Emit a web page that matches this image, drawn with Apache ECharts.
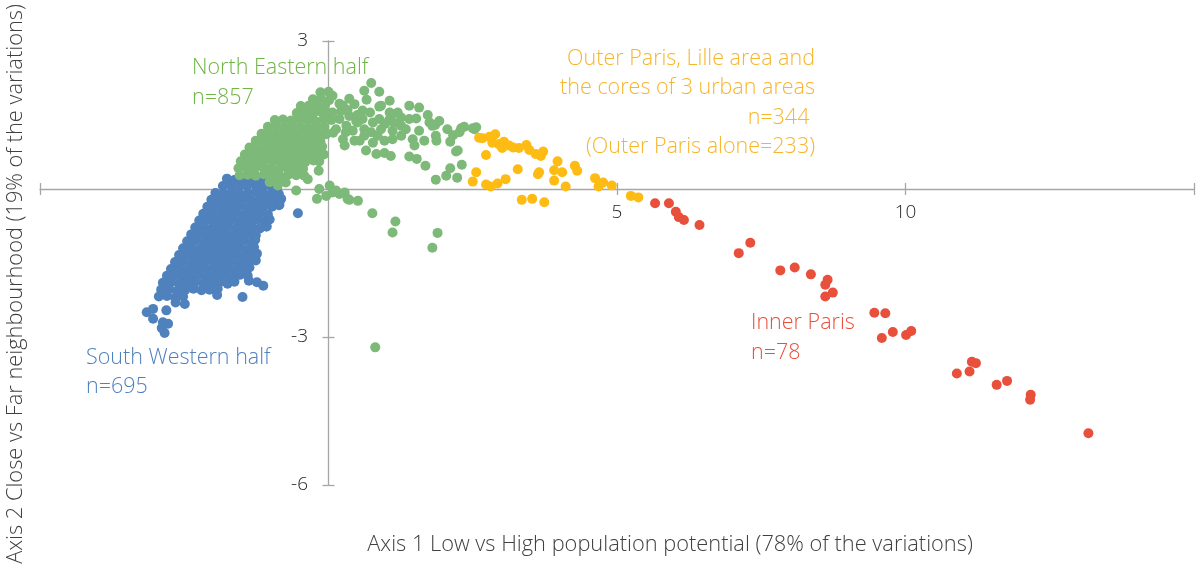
<!DOCTYPE html>
<html>
<head>
<meta charset="utf-8">
<script src="https://cdn.jsdelivr.net/npm/echarts@6/dist/echarts.min.js"></script>
<style>
html, body { margin: 0; padding: 0; background: #ffffff; }
#chart { width: 1197px; height: 565px; }
</style>
</head>
<body>
<div id="chart"></div>
<script>
// ===== data =====
var southWestern = [
	[-1.76, 0.21], [-1.62, 0.19], [-1.48, 0.20], [-1.34, 0.22], [-1.20, 0.18], [-1.10, 0.14],
	[-1.83, 0.06], [-1.69, 0.07], [-1.55, 0.05], [-1.41, 0.06], [-1.27, 0.08], [-1.13, 0.05], [-0.99, 0.06], [-0.89, 0.04],
	[-1.96, -0.08], [-1.82, -0.09], [-1.68, -0.07], [-1.54, -0.10], [-1.40, -0.08], [-1.26, -0.06], [-1.12, -0.09], [-0.98, -0.08], [-0.86, -0.10],
	[-2.03, -0.22], [-1.89, -0.21], [-1.75, -0.24], [-1.61, -0.22], [-1.47, -0.20], [-1.33, -0.23], [-1.19, -0.22], [-1.05, -0.21], [-0.91, -0.24], [-0.82, -0.20],
	[-2.10, -0.36], [-1.96, -0.35], [-1.82, -0.38], [-1.68, -0.36], [-1.54, -0.34], [-1.40, -0.37], [-1.26, -0.36], [-1.12, -0.35], [-0.98, -0.36], [-0.86, -0.33],
	[-2.17, -0.50], [-2.03, -0.49], [-1.89, -0.52], [-1.75, -0.50], [-1.61, -0.48], [-1.47, -0.51], [-1.33, -0.50], [-1.19, -0.49], [-1.05, -0.52],
	[-2.24, -0.64], [-2.10, -0.63], [-1.96, -0.66], [-1.82, -0.64], [-1.68, -0.62], [-1.54, -0.65], [-1.40, -0.64], [-1.26, -0.63], [-1.12, -0.66], [-1.02, -0.62],
	[-2.31, -0.78], [-2.17, -0.77], [-2.03, -0.80], [-1.89, -0.78], [-1.75, -0.76], [-1.61, -0.79], [-1.47, -0.78], [-1.33, -0.77], [-1.19, -0.80], [-1.07, -0.76],
	[-2.38, -0.92], [-2.24, -0.91], [-2.10, -0.94], [-1.96, -0.92], [-1.82, -0.90], [-1.68, -0.93], [-1.54, -0.92], [-1.40, -0.91], [-1.26, -0.94],
	[-2.45, -1.06], [-2.31, -1.05], [-2.17, -1.08], [-2.03, -1.06], [-1.89, -1.04], [-1.75, -1.07], [-1.61, -1.06], [-1.47, -1.05], [-1.33, -1.08], [-1.27, -1.03],
	[-2.52, -1.20], [-2.38, -1.19], [-2.24, -1.22], [-2.10, -1.20], [-1.96, -1.18], [-1.82, -1.21], [-1.68, -1.20], [-1.54, -1.19], [-1.40, -1.22], [-1.29, -1.18],
	[-2.59, -1.34], [-2.45, -1.33], [-2.31, -1.36], [-2.17, -1.34], [-2.03, -1.32], [-1.89, -1.35], [-1.75, -1.34], [-1.61, -1.33], [-1.47, -1.36], [-1.33, -1.34], [-1.24, -1.31],
	[-2.66, -1.48], [-2.52, -1.47], [-2.38, -1.50], [-2.24, -1.48], [-2.10, -1.46], [-1.96, -1.49], [-1.82, -1.48], [-1.68, -1.47], [-1.54, -1.50], [-1.40, -1.48], [-1.26, -1.45],
	[-2.73, -1.62], [-2.59, -1.61], [-2.45, -1.64], [-2.31, -1.62], [-2.17, -1.60], [-2.03, -1.63], [-1.89, -1.62], [-1.75, -1.61], [-1.61, -1.64], [-1.47, -1.62], [-1.37, -1.59],
	[-2.80, -1.76], [-2.66, -1.75], [-2.52, -1.78], [-2.38, -1.76], [-2.24, -1.74], [-2.10, -1.77], [-1.96, -1.76], [-1.82, -1.75], [-1.68, -1.78], [-1.54, -1.74], [-1.40, -1.76],
	[-2.87, -1.90], [-2.73, -1.89], [-2.59, -1.92], [-2.45, -1.90], [-2.31, -1.88], [-2.17, -1.91], [-2.03, -1.90], [-1.89, -1.89], [-1.75, -1.92], [-1.63, -1.88],
	[-1.38, -1.86], [-1.24, -1.89], [-1.13, -1.96],
	[-2.90, -2.04], [-2.76, -2.03], [-2.62, -2.06], [-2.48, -2.04], [-2.34, -2.02], [-2.20, -2.05], [-2.06, -2.04], [-1.92, -2.02],
	[-2.94, -2.18], [-2.80, -2.17], [-2.66, -2.20], [-2.52, -2.18], [-1.93, -2.15], [-1.49, -2.19],
	[-2.65, -2.30], [-2.49, -2.33], [-2.81, -2.46], [-3.15, -2.50], [-3.04, -2.43], [-3.04, -2.63],
	[-2.87, -2.70], [-2.78, -2.73], [-2.84, -2.92], [-2.89, -2.82],
	[-0.85, -0.32], [-0.99, -0.34], [-1.08, -0.76], [-1.31, -0.84], [-1.28, -1.38], [-0.53, -0.49]
];

var northEastern = [
	[-0.14, 1.96], [0.00, 1.97],
	[-0.27, 1.82], [-0.13, 1.83], [0.01, 1.80],
	[-0.48, 1.68], [-0.34, 1.69], [-0.20, 1.67], [-0.06, 1.70],
	[-0.55, 1.54], [-0.41, 1.55], [-0.27, 1.53], [-0.13, 1.56], [0.01, 1.54],
	[-0.93, 1.40], [-0.79, 1.41], [-0.65, 1.39], [-0.51, 1.42], [-0.37, 1.40], [-0.23, 1.38], [-0.09, 1.41], [0.05, 1.40],
	[-1.05, 1.26], [-0.91, 1.27], [-0.77, 1.25], [-0.63, 1.28], [-0.49, 1.26], [-0.35, 1.24], [-0.21, 1.27], [-0.07, 1.26],
	[-1.16, 1.12], [-1.02, 1.13], [-0.88, 1.11], [-0.74, 1.14], [-0.60, 1.12], [-0.46, 1.10], [-0.32, 1.13], [-0.18, 1.12], [-0.04, 1.11], [0.08, 1.14],
	[-1.26, 0.98], [-1.12, 0.99], [-0.98, 0.97], [-0.84, 1.00], [-0.70, 0.98], [-0.56, 0.96], [-0.42, 0.99], [-0.28, 0.98], [-0.14, 0.97],
	[-1.37, 0.84], [-1.23, 0.85], [-1.09, 0.83], [-0.95, 0.86], [-0.81, 0.84], [-0.67, 0.82], [-0.53, 0.85], [-0.39, 0.84], [-0.25, 0.83], [-0.11, 0.86],
	[-1.45, 0.70], [-1.31, 0.71], [-1.17, 0.69], [-1.03, 0.72], [-0.89, 0.70], [-0.75, 0.68], [-0.61, 0.71], [-0.47, 0.70], [-0.33, 0.69], [-0.19, 0.72], [-0.08, 0.70],
	[-1.52, 0.56], [-1.38, 0.57], [-1.24, 0.55], [-1.10, 0.58], [-0.96, 0.56], [-0.82, 0.54], [-0.68, 0.57], [-0.54, 0.56], [-0.40, 0.55], [-0.26, 0.58], [-0.16, 0.56],
	[-1.56, 0.42], [-1.42, 0.43], [-1.28, 0.41], [-1.14, 0.44], [-1.00, 0.42], [-0.86, 0.40], [-0.72, 0.43], [-0.58, 0.42], [-0.44, 0.41], [-0.17, 0.37],
	[-1.54, 0.28], [-1.40, 0.29], [-1.26, 0.27], [-1.12, 0.30], [-0.98, 0.28], [-0.84, 0.26], [-0.70, 0.29], [-0.56, 0.28], [-0.42, 0.27],
	[-1.02, 0.14], [-0.90, 0.15], [-0.74, 0.13], [-0.88, 0.07], [-0.56, -0.03], [-0.36, 0.20],
	[-0.16, 0.00], [-0.20, -0.20], [-0.04, -0.14], [0.02, 0.07],
	[0.74, 2.15], [0.62, 1.99], [0.88, 1.97], [0.66, 1.81], [0.88, 1.67], [0.07, 1.89], [0.25, 1.69], [0.45, 1.72],
	[0.59, 1.59], [0.07, 1.55], [0.19, 1.42], [0.36, 1.48], [0.59, 1.42], [0.77, 1.35], [0.88, 1.42], [1.06, 1.55],
	[1.20, 1.55], [1.26, 1.45], [1.57, 1.65], [1.40, 1.42], [1.52, 1.43], [1.72, 1.50], [1.75, 1.35], [1.85, 1.30],
	[0.13, 1.21], [0.31, 1.28], [0.42, 1.18], [0.62, 1.21], [0.74, 1.15], [0.91, 1.21], [1.11, 1.18], [1.26, 1.28],
	[1.34, 1.21], [1.46, 1.01], [0.25, 1.01], [0.54, 0.98], [0.77, 0.94], [1.11, 1.01], [1.26, 1.08],
	[0.22, 1.58], [0.33, 1.60], [0.50, 1.50], [0.72, 1.55], [0.30, 1.15], [0.50, 1.35], [0.98, 1.32], [1.05, 1.40],
	[0.36, 1.83], [0.19, 1.73], [0.48, 1.38], [0.28, 0.88], [0.45, 0.98], [1.06, 1.79], [1.14, 1.34], [1.40, 1.69],
	[1.57, 1.18], [1.66, 0.98], [1.92, 1.38], [1.49, 0.88], [0.97, 0.98], [0.62, 1.08], [0.85, 1.08],
	[0.65, 0.78], [0.83, 0.71], [0.97, 0.73], [1.08, 0.67], [1.40, 0.66], [1.53, 0.61], [1.68, 0.47],
	[1.86, 0.19], [2.04, 0.27], [2.11, 0.42], [2.23, 0.23], [2.31, 0.49],
	[2.06, 1.21], [2.16, 1.09], [2.30, 1.23], [2.53, 1.21], [2.11, 0.96], [2.21, 0.76], [1.86, 1.08], [1.87, 0.98],
	[0.91, 1.69], [1.11, 1.52], [1.80, 1.28], [2.27, 1.15], [2.24, 0.78], [2.35, 1.26], [2.50, 1.23], [2.56, 1.25],
	[0.07, -0.07], [0.19, -0.10], [0.28, -0.07], [0.36, -0.22], [0.51, -0.24], [0.13, -0.03], [0.33, -0.20],
	[0.76, -0.49], [1.16, -0.66], [1.11, -0.88], [1.89, -0.89], [1.80, -1.19], [0.81, -3.21]
];

var outerParis = [
	[2.67, 1.03], [2.79, 1.06], [2.89, 1.11], [2.84, 0.94], [2.95, 0.91], [3.04, 0.96], [3.01, 0.83], [3.13, 0.88],
	[3.20, 0.84], [3.30, 0.83], [3.43, 0.89], [3.48, 0.79], [3.59, 0.71], [3.72, 0.76], [3.68, 0.67], [2.73, 0.69],
	[3.97, 0.56], [3.91, 0.38], [4.05, 0.34], [4.27, 0.47], [4.31, 0.37], [3.65, 0.34], [3.63, 0.30], [3.28, 0.40],
	[2.56, 0.34], [2.50, 0.15], [2.73, 0.09], [2.81, 0.05], [2.93, 0.11], [3.07, 0.20], [3.91, 0.17], [4.11, 0.05],
	[4.62, 0.22], [4.68, 0.05], [4.76, 0.13], [4.91, 0.07], [3.35, -0.22], [3.53, -0.20], [3.74, -0.27],
	[5.24, -0.14], [5.37, -0.17], [2.61, 1.04]
];

var innerParis = [
	[5.66, -0.29], [5.90, -0.29], [6.02, -0.46], [6.07, -0.57], [6.16, -0.63], [6.43, -0.73],
	[7.11, -1.30], [7.31, -1.09], [7.83, -1.65], [8.08, -1.59], [8.36, -1.73], [8.65, -1.84],
	[8.61, -1.94], [8.74, -2.10], [8.61, -2.18], [9.46, -2.51], [9.65, -2.52], [9.59, -3.02],
	[9.78, -2.90], [10.01, -2.96], [10.10, -2.88], [10.89, -3.74], [11.11, -3.70], [11.15, -3.50],
	[11.22, -3.53], [11.58, -3.97], [11.76, -3.89], [12.17, -4.17], [12.16, -4.27], [13.17, -4.95]
];

var xTicksShown = [5, 10];
var xTitle = 'Axis 1 Low vs High population potential (78% of the variations)';
var yTitle = 'Axis 2 Close vs Far neighbourhood (19% of the variations)';

// ===== styles =====
var FONT = '"Open Sans", "Segoe UI", sans-serif';
var axisGrey = '#a6a6a6';
// grid box, labels are pulled back to the zero lines from its edges
var G = { left: 40, right: 1, top: 41, bottom: 80 };
var zeroX = 329, zeroY = 189;

function notes(lines, x, y0, step, color, align) {
	return lines.map(function (t, i) {
		return {
			type: 'text',
			x: x,
			y: y0 + i * step,
			style: {
				text: t,
				fill: color,
				font: '300 21.5px ' + FONT,
				textAlign: align,
				textVerticalAlign: 'middle'
			}
		};
	});
}

function dots(name, data, color) {
	return {
		name: name,
		type: 'scatter',
		data: data,
		symbolSize: 10,
		itemStyle: { color: color, opacity: 1 },
		xAxisIndex: 0,
		yAxisIndex: 0,
		silent: true
	};
}

var baseAxis = {
	type: 'value',
	splitLine: { show: false },
	axisLine: { onZero: true, lineStyle: { color: axisGrey, width: 1.3 } },
	axisTick: { show: true, length: 6, lineStyle: { color: axisGrey, width: 1.3 } }
};

var tickFont = { color: '#262626', fontSize: 19, fontWeight: 300, fontFamily: FONT };

var chart = echarts.init(document.getElementById('chart'));

var option = {
	animation: false,
	grid: G,
	xAxis: [
		Object.assign({}, baseAxis, {
			min: -5, max: 15, interval: 5, position: 'bottom',
			axisLabel: Object.assign({}, tickFont, {
				margin: 14 - (565 - G.bottom - zeroY),
				formatter: function (v) { return xTicksShown.indexOf(v) > -1 ? String(v) : ''; }
			})
		}),
		Object.assign({}, baseAxis, {
			min: -5, max: 15, interval: 5, position: 'top',
			axisLine: { show: false, onZero: true },
			axisLabel: { show: false }
		})
	],
	yAxis: [
		Object.assign({}, baseAxis, {
			min: -6, max: 3, interval: 3, position: 'left',
			axisLabel: Object.assign({}, tickFont, {
				margin: 21 - (zeroX - G.left),
				formatter: function (v) { return v === 0 ? '' : String(v); }
			})
		}),
		Object.assign({}, baseAxis, {
			min: -6, max: 3, interval: 3, position: 'right',
			axisLine: { show: false, onZero: true },
			axisLabel: { show: false }
		})
	],
	series: [
		dots('South Western half', southWestern, '#4f81bd'),
		dots('North Eastern half', northEastern, '#7db978'),
		dots('Outer Paris', outerParis, '#fdbb14'),
		dots('Inner Paris', innerParis, '#e8503c')
	],
	graphic: [].concat(
		notes(['North Eastern half', 'n=857'], 192, 68, 30, '#6fb544', 'left'),
		notes(['Outer Paris, Lille area and', 'the cores of 3 urban areas', 'n=344 ', '(Outer Paris alone=233)'], 815, 59, 29.3, '#f7b52c', 'right'),
		notes(['Inner Paris', 'n=78'], 751, 323, 30, '#e8503c', 'left'),
		notes(['South Western half', 'n=695'], 86, 358, 29, '#4f81bd', 'left'),
		[{
			type: 'text', x: 670, y: 545,
			style: { text: xTitle, fill: '#404040', font: '300 21.8px ' + FONT, textAlign: 'center', textVerticalAlign: 'middle' }
		}, {
			type: 'text', x: 16, y: 284, rotation: Math.PI / 2,
			style: { text: yTitle, fill: '#404040', font: '300 21.8px ' + FONT, textAlign: 'center', textVerticalAlign: 'middle' }
		}]
	)
};

chart.setOption(option);
</script>
</body>
</html>
